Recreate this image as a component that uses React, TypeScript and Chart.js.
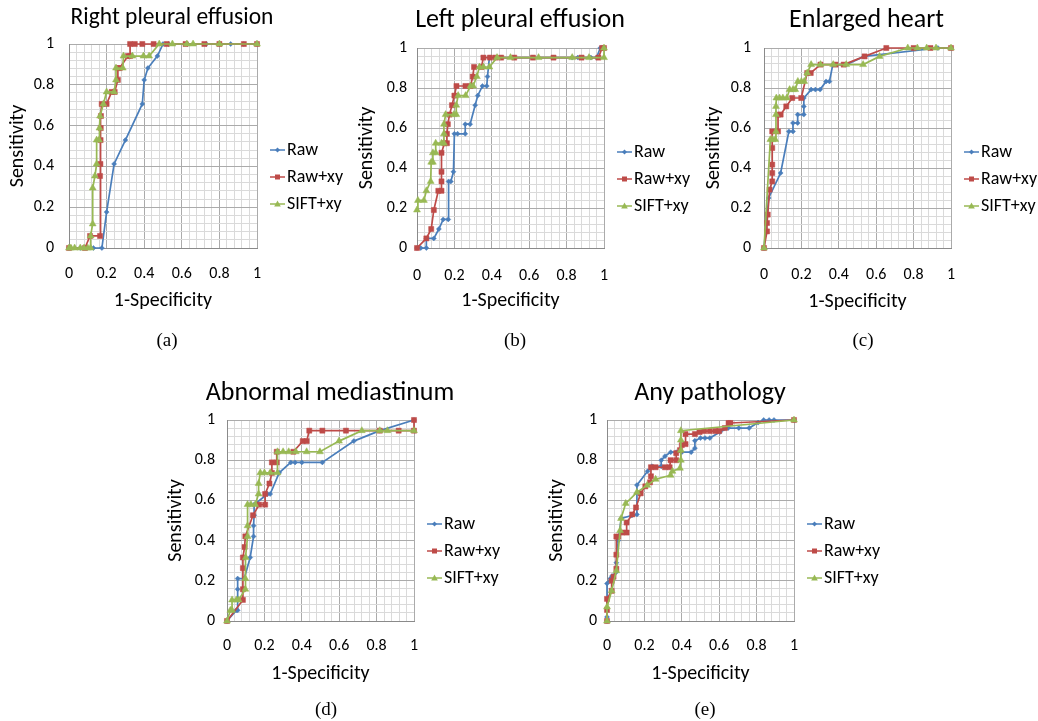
import React, { useEffect, useRef } from 'react';
import { Chart, registerables } from 'chart.js';
Chart.register(...registerables);

const SERIES = ['Raw', 'Raw+xy', 'SIFT+xy'];
const COLORS = ['#4A7EBB', '#BE4B48', '#98B954'];
const POINT_STYLES = ['rectRot', 'rect', 'triangle'];
const POINT_RADII = [2.5, 3.6, 4];
const TICK_LABELS = ['0', '0.2', '0.4', '0.6', '0.8', '1'];
const X_TITLE = '1-Specificity';
const Y_TITLE = 'Sensitivity';
const FONT = 'Carlito, Calibri, Lato, sans-serif';

// (a) Right pleural effusion
const aRawX = [0, 0.06, 0.13, 0.175, 0.2, 0.24, 0.3, 0.39, 0.4, 0.42, 0.47, 0.5, 0.53, 0.63, 0.73, 0.8, 0.86, 0.93, 1];
const aRawY = [0, 0, 0, 0, 0.176, 0.412, 0.529, 0.706, 0.824, 0.882, 0.941, 1, 1, 1, 1, 1, 1, 1, 1];
const aRawXyX = [0, 0.085, 0.112, 0.165, 0.165, 0.167, 0.168, 0.169, 0.17, 0.174, 0.2, 0.227, 0.243, 0.26, 0.26, 0.27, 0.313, 0.325, 0.325, 0.35, 0.39, 0.45, 0.52, 0.62, 0.72, 0.8, 0.93, 1];
const aRawXyY = [0, 0, 0.059, 0.059, 0.353, 0.412, 0.529, 0.588, 0.647, 0.706, 0.706, 0.765, 0.765, 0.824, 0.882, 0.882, 0.941, 0.941, 1, 1, 1, 1, 1, 1, 1, 1, 1, 1];
const aSiftX = [0, 0.01, 0.03, 0.06, 0.08, 0.1, 0.115, 0.115, 0.126, 0.126, 0.138, 0.147, 0.147, 0.16, 0.162, 0.165, 0.183, 0.2, 0.24, 0.25, 0.25, 0.286, 0.29, 0.337, 0.396, 0.426, 0.48, 0.55, 0.627, 0.66, 0.8, 1];
const aSiftY = [0, 0, 0, 0, 0, 0, 0, 0.059, 0.118, 0.294, 0.353, 0.412, 0.529, 0.529, 0.588, 0.647, 0.706, 0.765, 0.765, 0.824, 0.882, 0.882, 0.941, 0.941, 0.941, 0.941, 1, 1, 1, 1, 1, 1];

// (b) Left pleural effusion
const bRawX = [0, 0.02, 0.05, 0.05, 0.09, 0.117, 0.14, 0.167, 0.169, 0.181, 0.195, 0.2, 0.217, 0.258, 0.258, 0.284, 0.311, 0.325, 0.35, 0.373, 0.377, 0.387, 0.45, 0.52, 0.62, 0.73, 0.83, 0.86, 0.93, 0.96, 0.98, 1];
const bRawY = [0, 0, 0, 0.048, 0.048, 0.095, 0.143, 0.143, 0.333, 0.333, 0.381, 0.571, 0.571, 0.571, 0.619, 0.619, 0.714, 0.762, 0.81, 0.81, 0.857, 0.952, 0.952, 0.952, 0.952, 0.952, 0.952, 0.952, 0.952, 0.952, 1, 1];
const bRawXyX = [0, 0.05, 0.076, 0.09, 0.114, 0.131, 0.131, 0.131, 0.131, 0.147, 0.16, 0.16, 0.165, 0.174, 0.187, 0.2, 0.211, 0.259, 0.286, 0.298, 0.305, 0.345, 0.355, 0.39, 0.42, 0.45, 0.52, 0.62, 0.73, 0.88, 0.97, 0.99, 1];
const bRawXyY = [0, 0.048, 0.095, 0.19, 0.286, 0.286, 0.333, 0.381, 0.476, 0.524, 0.524, 0.571, 0.619, 0.667, 0.714, 0.762, 0.81, 0.81, 0.81, 0.857, 0.905, 0.905, 0.952, 0.952, 0.952, 0.952, 0.952, 0.952, 0.952, 0.952, 0.952, 1, 1];
const bSiftX = [0, 0.005, 0.037, 0.05, 0.073, 0.076, 0.085, 0.085, 0.1, 0.1, 0.131, 0.144, 0.144, 0.144, 0.153, 0.197, 0.21, 0.21, 0.22, 0.26, 0.286, 0.3, 0.32, 0.334, 0.355, 0.387, 0.428, 0.5, 0.65, 0.83, 0.92, 1, 1];
const bSiftY = [0.19, 0.238, 0.238, 0.286, 0.333, 0.429, 0.429, 0.476, 0.476, 0.524, 0.524, 0.524, 0.571, 0.619, 0.667, 0.667, 0.667, 0.714, 0.762, 0.762, 0.81, 0.81, 0.857, 0.905, 0.905, 0.905, 0.952, 0.952, 0.952, 0.952, 0.952, 0.952, 1];

// (c) Enlarged heart
const cRawX = [0, 0.025, 0.089, 0.133, 0.155, 0.155, 0.18, 0.18, 0.213, 0.213, 0.213, 0.252, 0.275, 0.3, 0.332, 0.35, 0.368, 0.44, 0.535, 0.93, 1];
const cRawY = [0, 0.25, 0.375, 0.583, 0.583, 0.625, 0.625, 0.667, 0.667, 0.708, 0.75, 0.792, 0.792, 0.792, 0.833, 0.833, 0.917, 0.917, 0.958, 1, 1];
const cRawXyX = [0, 0.016, 0.016, 0.02, 0.03, 0.044, 0.044, 0.044, 0.044, 0.044, 0.075, 0.075, 0.089, 0.119, 0.151, 0.199, 0.231, 0.25, 0.302, 0.382, 0.426, 0.538, 0.654, 0.8, 0.89, 1];
const cRawXyY = [0, 0.083, 0.125, 0.167, 0.292, 0.333, 0.375, 0.417, 0.5, 0.583, 0.583, 0.667, 0.667, 0.708, 0.75, 0.75, 0.875, 0.875, 0.917, 0.917, 0.917, 0.958, 1, 1, 1, 1];
const cSiftX = [0, 0.034, 0.046, 0.06, 0.064, 0.064, 0.064, 0.066, 0.083, 0.101, 0.122, 0.137, 0.155, 0.167, 0.181, 0.2, 0.215, 0.231, 0.252, 0.302, 0.37, 0.44, 0.53, 0.618, 0.769, 0.82, 0.87, 0.92, 1];
const cSiftY = [0, 0.542, 0.542, 0.542, 0.583, 0.667, 0.708, 0.75, 0.75, 0.75, 0.75, 0.792, 0.792, 0.792, 0.833, 0.833, 0.833, 0.875, 0.917, 0.917, 0.917, 0.917, 0.917, 0.958, 1, 1, 1, 1, 1];

// (d) Abnormal mediastinum
const dRawX = [0, 0.05, 0.057, 0.057, 0.057, 0.092, 0.124, 0.142, 0.142, 0.145, 0.145, 0.217, 0.231, 0.279, 0.341, 0.364, 0.4, 0.51, 0.678, 0.817, 1];
const dRawY = [0, 0.053, 0.053, 0.158, 0.211, 0.211, 0.316, 0.421, 0.474, 0.526, 0.579, 0.632, 0.632, 0.737, 0.789, 0.789, 0.789, 0.789, 0.895, 0.947, 1];
const dRawXyX = [0, 0.085, 0.085, 0.085, 0.085, 0.094, 0.098, 0.139, 0.172, 0.204, 0.204, 0.227, 0.24, 0.24, 0.266, 0.266, 0.355, 0.405, 0.426, 0.44, 0.51, 0.636, 0.817, 0.918, 1, 1];
const dRawXyY = [0, 0.105, 0.158, 0.263, 0.316, 0.368, 0.421, 0.526, 0.579, 0.579, 0.632, 0.684, 0.737, 0.789, 0.789, 0.842, 0.842, 0.895, 0.895, 0.947, 0.947, 0.947, 0.947, 0.947, 0.947, 1];
const dSiftX = [0, 0.018, 0.027, 0.027, 0.05, 0.062, 0.098, 0.098, 0.1, 0.11, 0.11, 0.11, 0.128, 0.151, 0.169, 0.169, 0.178, 0.2, 0.231, 0.27, 0.27, 0.3, 0.33, 0.368, 0.426, 0.497, 0.599, 0.721, 0.817, 0.858, 1];
const dSiftY = [0, 0.053, 0.053, 0.105, 0.105, 0.105, 0.158, 0.211, 0.316, 0.421, 0.474, 0.579, 0.579, 0.579, 0.632, 0.684, 0.737, 0.737, 0.737, 0.737, 0.842, 0.842, 0.842, 0.842, 0.842, 0.842, 0.895, 0.947, 0.947, 0.947, 0.947];

// (e) Any pathology
const eRawX = [0, 0, 0, 0.018, 0.027, 0.05, 0.05, 0.06, 0.076, 0.133, 0.16, 0.16, 0.217, 0.24, 0.29, 0.29, 0.31, 0.341, 0.37, 0.4, 0.45, 0.47, 0.47, 0.5, 0.524, 0.55, 0.604, 0.648, 0.705, 0.76, 0.808, 0.838, 0.867, 0.893, 1];
const eRawY = [0, 0.02, 0.186, 0.211, 0.224, 0.244, 0.29, 0.4, 0.51, 0.525, 0.53, 0.676, 0.745, 0.77, 0.77, 0.8, 0.82, 0.84, 0.84, 0.84, 0.84, 0.86, 0.897, 0.91, 0.91, 0.91, 0.94, 0.96, 0.96, 0.96, 0.987, 1, 1, 1, 1];
const eRawXyX = [0, 0, 0, 0.025, 0.025, 0.035, 0.05, 0.05, 0.05, 0.06, 0.08, 0.105, 0.105, 0.135, 0.155, 0.18, 0.205, 0.23, 0.235, 0.235, 0.26, 0.31, 0.335, 0.34, 0.37, 0.37, 0.39, 0.4, 0.42, 0.42, 0.47, 0.495, 0.52, 0.55, 0.58, 0.6, 0.63, 0.65, 0.66, 1];
const eRawXyY = [0, 0.055, 0.11, 0.15, 0.2, 0.22, 0.26, 0.33, 0.42, 0.42, 0.44, 0.44, 0.49, 0.53, 0.565, 0.635, 0.67, 0.69, 0.72, 0.765, 0.765, 0.765, 0.765, 0.8, 0.8, 0.835, 0.85, 0.875, 0.88, 0.93, 0.93, 0.94, 0.945, 0.945, 0.945, 0.945, 0.96, 0.985, 0.985, 1];
const eSiftX = [0, 0, 0.025, 0.05, 0.07, 0.075, 0.1, 0.16, 0.215, 0.26, 0.34, 0.35, 0.39, 0.395, 0.395, 0.395, 0.395, 1];
const eSiftY = [0, 0.07, 0.15, 0.25, 0.45, 0.51, 0.585, 0.64, 0.675, 0.705, 0.725, 0.745, 0.76, 0.8, 0.85, 0.9, 0.947, 1];

type Spec = {
  title: string; caption: string; titleSize: number;
  left: number; top: number; width: number; height: number;
  yAxisWidth: number; xAxisHeight: number;
  titlePadTop: number; titlePadBottom: number;
  xTitlePad: number; yTitlePad: number; xTickPad: number; yTickPad: number;
  capX: number; capY: number;
  series: number[][][];
};

const PANELS: Spec[] = [
  { title: 'Right pleural effusion', caption: '(a)', titleSize: 23.5, left: 0, top: 0, width: 344, height: 354, yAxisWidth: 69, xAxisHeight: 106,
    titlePadTop: 4, titlePadBottom: 11.8, xTitlePad: 41, yTitlePad: 5.5, xTickPad: 16, yTickPad: 15, capX: 167, capY: 340,
    series: [[aRawX, aRawY], [aRawXyX, aRawXyY], [aSiftX, aSiftY]] },
  { title: 'Left pleural effusion', caption: '(b)', titleSize: 26, left: 349, top: 0, width: 342, height: 358, yAxisWidth: 68, xAxisHeight: 110,
    titlePadTop: 4.9, titlePadBottom: 11.9, xTitlePad: 45, yTitlePad: 6, xTickPad: 18, yTickPad: 10, capX: 515, capY: 340,
    series: [[bRawX, bRawY], [bRawXyX, bRawXyY], [bSiftX, bSiftY]] },
  { title: 'Enlarged heart', caption: '(c)', titleSize: 26, left: 695, top: 0, width: 343, height: 358, yAxisWidth: 69, xAxisHeight: 110,
    titlePadTop: 4.9, titlePadBottom: 11.9, xTitlePad: 44, yTitlePad: 6.5, xTickPad: 17, yTickPad: 13, capX: 863, capY: 340,
    series: [[cRawX, cRawY], [cRawXyX, cRawXyY], [cSiftX, cSiftY]] },
  { title: 'Abnormal mediastinum', caption: '(d)', titleSize: 26, left: 159, top: 370, width: 342, height: 362, yAxisWidth: 68, xAxisHeight: 111,
    titlePadTop: 7.4, titlePadBottom: 11.4, xTitlePad: 46, yTitlePad: 4.5, xTickPad: 15, yTickPad: 12, capX: 326, capY: 709,
    series: [[dRawX, dRawY], [dRawXyX, dRawXyY], [dSiftX, dSiftY]] },
  { title: 'Any pathology', caption: '(e)', titleSize: 26, left: 539, top: 370, width: 342, height: 362, yAxisWidth: 68, xAxisHeight: 111,
    titlePadTop: 7.4, titlePadBottom: 11.4, xTitlePad: 46, yTitlePad: 5.5, xTickPad: 15, yTickPad: 10, capX: 705, capY: 709,
    series: [[eRawX, eRawY], [eRawXyX, eRawXyY], [eSiftX, eSiftY]] },
];

function isMajor(v: number) {
  const k = Math.round(v / 0.2);
  return Math.abs(k * 0.2 - v) < 1e-6;
}
function majorLabel(v: number) {
  return isMajor(v) ? TICK_LABELS[Math.round(v / 0.2)] : '';
}

function makeIcon(color: string, style: string): HTMLCanvasElement {
  const c = document.createElement('canvas');
  c.width = 26; c.height = 10;
  const g = c.getContext('2d')!;
  g.strokeStyle = color; g.fillStyle = color; g.lineWidth = 1.5;
  g.beginPath(); g.moveTo(11, 5); g.lineTo(26, 5); g.stroke();
  const cx = 18.5, cy = 5;
  g.beginPath();
  if (style === 'rect') g.rect(cx - 2.5, cy - 2.5, 5, 5);
  else if (style === 'triangle') { g.moveTo(cx, cy - 3.5); g.lineTo(cx + 3.3, cy + 2.5); g.lineTo(cx - 3.3, cy + 2.5); g.closePath(); }
  else { g.moveTo(cx, cy - 2.5); g.lineTo(cx + 2.5, cy); g.lineTo(cx, cy + 2.5); g.lineTo(cx - 2.5, cy); g.closePath(); }
  g.fill();
  return c;
}

function Panel({ spec }: { spec: Spec }) {
  const ref = useRef<HTMLCanvasElement>(null);
  useEffect(() => {
    const icons = SERIES.map((_, i) => makeIcon(COLORS[i], POINT_STYLES[i]));
    const datasets = spec.series.map(([xs, ys], i) => ({
      label: SERIES[i],
      data: xs.map((x, j) => ({ x, y: ys[j] })),
      borderColor: COLORS[i],
      backgroundColor: COLORS[i],
      pointBackgroundColor: COLORS[i],
      pointBorderColor: COLORS[i],
      borderWidth: 1.7,
      pointStyle: POINT_STYLES[i],
      pointRadius: POINT_RADII[i],
      pointBorderWidth: 0.5,
      tension: 0,
      clip: false as any,
      order: 2 - i,
    }));
    const gridColor = (ctx: any) => (ctx.tick && isMajor(ctx.tick.value) ? '#ababab' : '#dadada');
    const chart = new Chart(ref.current!, {
      type: 'line',
      data: { datasets },
      options: {
        responsive: false,
        animation: false,
        devicePixelRatio: 1,
        layout: { padding: 0, autoPadding: false },
        plugins: {
          tooltip: { enabled: false },
          title: {
            display: true, text: spec.title, color: '#000',
            font: { family: FONT, size: spec.titleSize, weight: 'normal' },
            padding: { top: spec.titlePadTop, bottom: spec.titlePadBottom },
          },
          legend: {
            position: 'right', align: 'center', maxWidth: 87,
            labels: {
              usePointStyle: true, pointStyleWidth: 12, padding: 9,
              font: { family: FONT, size: 18 }, color: '#000',
              generateLabels: () => SERIES.map((name, i) => ({
                text: name, pointStyle: icons[i] as any, fillStyle: COLORS[i], strokeStyle: COLORS[i],
                lineWidth: 0, hidden: false, datasetIndex: i, fontColor: '#000',
              })),
            },
          },
        },
        scales: {
          x: {
            type: 'linear', min: 0, max: 1,
            afterFit: (s: any) => { s.height = spec.xAxisHeight; },
            ticks: {
              stepSize: 0.04, autoSkip: false, maxRotation: 0, padding: spec.xTickPad, color: '#000',
              font: { family: FONT, size: 16 }, callback: (v: any) => majorLabel(Number(v)),
            },
            grid: { color: gridColor, drawTicks: false, lineWidth: 1 },
            border: { color: '#8a8a8a', width: 1 },
            title: { display: true, text: X_TITLE, color: '#000', font: { family: FONT, size: 20 }, padding: { top: 0, bottom: spec.xTitlePad } },
          },
          y: {
            type: 'linear', min: 0, max: 1,
            afterFit: (s: any) => { s.width = spec.yAxisWidth; },
            ticks: {
              stepSize: 0.04, autoSkip: false, padding: spec.yTickPad, color: '#000',
              font: { family: FONT, size: 16 }, callback: (v: any) => majorLabel(Number(v)),
            },
            grid: { color: gridColor, drawTicks: false, lineWidth: 1 },
            border: { color: '#8a8a8a', width: 1 },
            title: { display: true, text: Y_TITLE, color: '#000', font: { family: FONT, size: 20 }, padding: { top: spec.yTitlePad, bottom: 0 } },
          },
        },
      } as any,
    });
    return () => chart.destroy();
  }, [spec]);
  return (
    <canvas ref={ref} width={spec.width} height={spec.height}
      style={{ position: 'absolute', left: spec.left, top: spec.top, width: spec.width, height: spec.height }} />
  );
}

export default function App() {
  return (
    <div style={{ position: 'absolute', left: 0, top: 0, width: 1038, height: 721, overflow: 'hidden', background: '#fff' }}>
      {PANELS.map((p) => <Panel key={p.caption} spec={p} />)}
      {PANELS.map((p) => (
        <div key={'cap' + p.caption} style={{ position: 'absolute', left: p.capX, top: p.capY, transform: 'translate(-50%, -50%)',
          font: '19px "Liberation Serif", "Times New Roman", serif', color: '#000', whiteSpace: 'nowrap' }}>{p.caption}</div>
      ))}
    </div>
  );
}
